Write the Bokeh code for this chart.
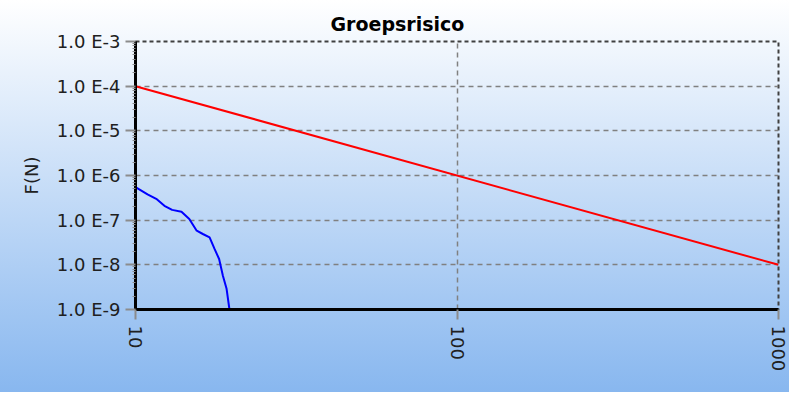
from bokeh.plotting import figure
from bokeh.models import Range1d, FixedTicker, CustomJSTickFormatter, InlineStyleSheet
from bokeh.embed import file_html
from bokeh.resources import INLINE

# ---- data ----
title_text = "Groepsrisico"
y_label = "F(N)"
N_curve = [10, 10.9, 11.6, 12.3, 13.0, 13.9, 14.7, 15.5, 16.2, 17.0, 17.6, 18.2, 18.7, 19.2, 19.6]
F_curve = [5.5e-7, 3.8e-7, 3.0e-7, 2.1e-7, 1.7e-7, 1.55e-7, 1.06e-7, 5.8e-8, 4.9e-8, 4.1e-8,
           2.3e-8, 1.35e-8, 5.7e-9, 2.9e-9, 1.0e-9]
N_norm = [10, 1000]
F_norm = [1e-4, 1e-8]
x_ticks = [10, 100, 1000]
y_ticks = [1e-9, 1e-8, 1e-7, 1e-6, 1e-5, 1e-4, 1e-3]

FONT = "DejaVu Sans"
css = ":host { background: linear-gradient(to bottom, #ffffff 0%, #88b7ef 100%); }"

p = figure(width=789, height=392, x_axis_type="log", y_axis_type="log",
           x_range=Range1d(10, 1000), y_range=Range1d(1e-9, 1e-3),
           output_backend="svg", toolbar_location=None,
           min_border_left=135, min_border_right=11, min_border_top=41, min_border_bottom=83,
           background_fill_color=None, border_fill_color=None,
           stylesheets=[InlineStyleSheet(css=css)])

p.title.text = title_text
p.title.align = "left"
p.title.offset = 195
p.title.text_font = FONT
p.title.text_font_size = "19px"
p.title.text_font_style = "bold"
p.title.text_color = "#000000"
p.title.standoff = 13

p.outline_line_color = "#404040"
p.outline_line_dash = "4 3"
p.outline_line_width = 2

minor = [m * y for y in y_ticks[:-1] for m in range(2, 10)]
p.yaxis.ticker = FixedTicker(ticks=y_ticks, minor_ticks=minor)
p.xaxis.ticker = FixedTicker(ticks=x_ticks, minor_ticks=[])
p.yaxis.formatter = CustomJSTickFormatter(code="return '1.0 E' + Math.round(Math.log10(tick));")
p.xaxis.formatter = CustomJSTickFormatter(code="return String(Math.round(tick));")

for ax in (p.xaxis, p.yaxis):
    ax.major_label_text_font = FONT
    ax.major_label_text_font_size = "18px"
    ax.major_label_text_color = "#202020"
    ax.major_tick_line_color = "#8c8c8c"
    ax.major_tick_line_width = 2
    ax.major_tick_out = 10
    ax.major_tick_in = 0
    ax.axis_line_color = "#000000"
    ax.axis_line_width = 3

p.yaxis.minor_tick_line_color = "#8c8c8c"
p.yaxis.minor_tick_out = 3
p.yaxis.minor_tick_in = 0
p.yaxis.major_label_standoff = 5
p.xaxis.major_label_standoff = 6
p.xaxis.major_label_orientation = "vertical"

p.yaxis.axis_label = y_label
p.yaxis.axis_label_text_font = FONT
p.yaxis.axis_label_text_font_size = "18px"
p.yaxis.axis_label_text_font_style = "normal"
p.yaxis.axis_label_text_color = "#202020"
p.yaxis.axis_label_standoff = 12

for g in (p.xgrid, p.ygrid):
    g.grid_line_color = "#808080"
    g.grid_line_dash = "5 4"
    g.grid_line_width = 1.5

p.line(N_norm, F_norm, line_color="#ff0000", line_width=2)
p.line(N_curve, F_curve, line_color="#0000ff", line_width=2)

open("out.html", "w").write(file_html(p, INLINE))
